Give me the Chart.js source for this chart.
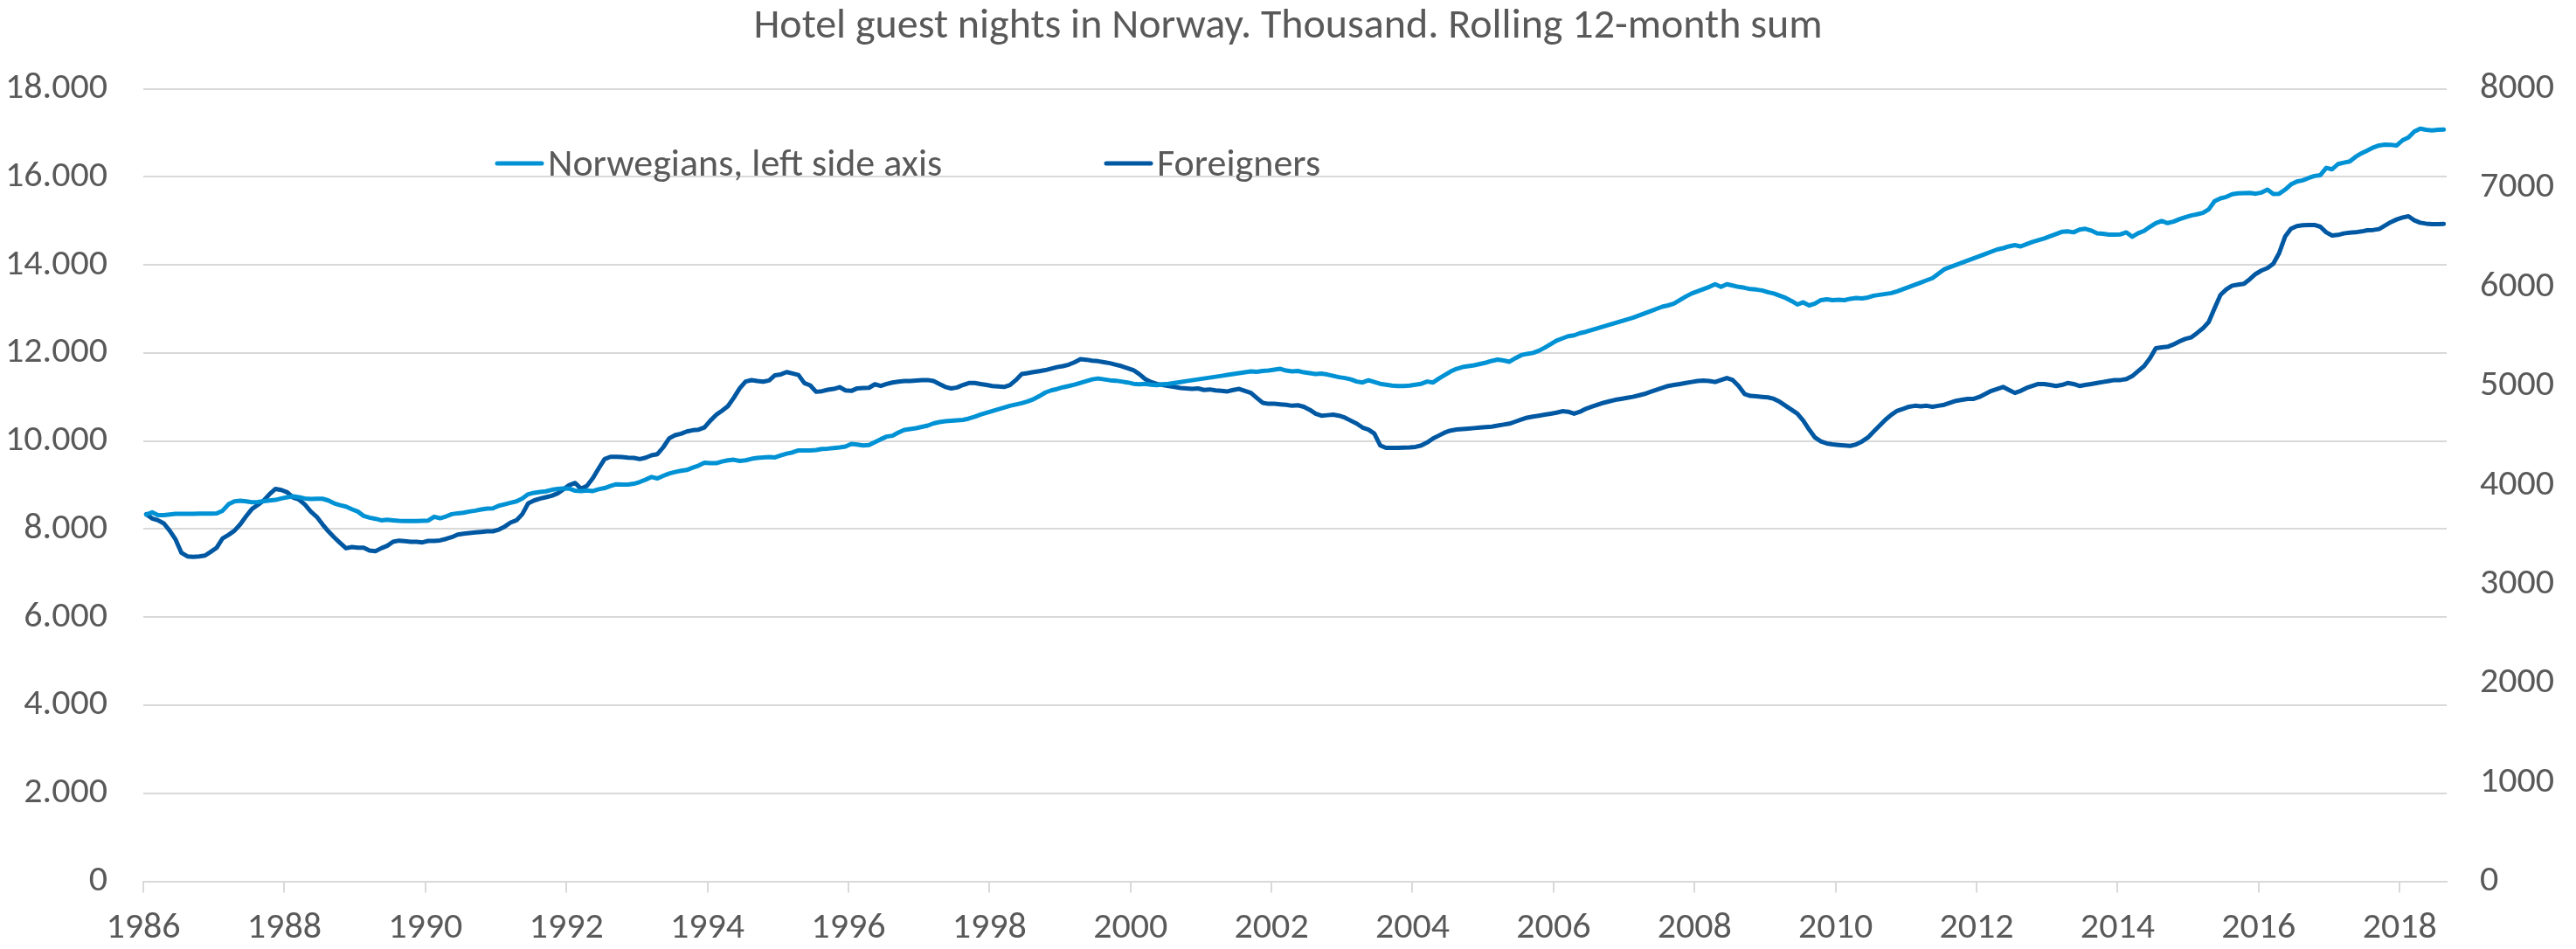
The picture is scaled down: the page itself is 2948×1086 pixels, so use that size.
<!DOCTYPE html>
<html>
<head>
<meta charset="utf-8">
<title>Hotel guest nights in Norway</title>
<script src="https://cdn.jsdelivr.net/npm/chart.js@4.4.1/dist/chart.umd.min.js"></script>
<style>
  html, body { margin: 0; padding: 0; background: #fff; }
  #wrap { width: 2948px; height: 1086px; position: relative; }
</style>
</head>
<body>
<div id="wrap"><canvas id="chart"></canvas></div>
<script>
// Monthly rolling 12-month sums, thousand guest nights, Jan 1986 - Aug 2018
const startYear = 1986;

const norwegians = [
  8330, 8380, 8315, 8315, 8330, 8345, 8345, 8345, 8345, 8350, 8350, 8350,
  8357, 8417, 8563, 8629, 8642, 8629, 8609, 8615, 8635, 8649, 8662, 8695,
  8722, 8741, 8722, 8695, 8682, 8688, 8688, 8649, 8583, 8543, 8510, 8451,
  8398, 8299, 8259, 8233, 8199, 8213, 8199, 8186, 8180, 8180, 8180, 8186,
  8193, 8279, 8246, 8286, 8339, 8358, 8372, 8398, 8418, 8444, 8464, 8471,
  8530, 8563, 8596, 8629, 8695, 8791, 8824, 8844, 8857, 8890, 8910, 8924,
  8917, 8870, 8864, 8877, 8864, 8904, 8930, 8977, 9017, 9010, 9010, 9030,
  9070, 9123, 9183, 9149, 9209, 9262, 9296, 9322, 9342, 9395, 9442, 9508,
  9495, 9495, 9535, 9561, 9575, 9548, 9561, 9595, 9615, 9628, 9635, 9628,
  9674, 9714, 9741, 9787, 9787, 9787, 9794, 9821, 9827, 9841, 9854, 9874,
  9934, 9920, 9900, 9907, 9973, 10040, 10100, 10120, 10193, 10253, 10272, 10290,
  10320, 10350, 10400, 10430, 10450, 10460, 10470, 10480, 10510, 10550, 10600, 10640,
  10680, 10720, 10760, 10800, 10830, 10860, 10900, 10950, 11020, 11100, 11150, 11180,
  11220, 11250, 11280, 11320, 11360, 11400, 11420, 11400, 11380, 11370, 11350, 11330,
  11300, 11290, 11300, 11280, 11270, 11290, 11300, 11320, 11340, 11360, 11380, 11400,
  11420, 11440, 11460, 11480, 11500, 11520, 11540, 11560, 11580, 11570, 11590, 11600,
  11620, 11640, 11600, 11580, 11590, 11560, 11540, 11520, 11530, 11510, 11480, 11450,
  11430, 11400, 11350, 11330, 11380, 11340, 11300, 11280, 11260, 11250, 11250, 11260,
  11280, 11300, 11350, 11330, 11420, 11500, 11580, 11640, 11680, 11700, 11720, 11750,
  11780, 11820, 11850, 11830, 11800, 11880, 11950, 11980, 12000, 12050, 12120, 12200,
  12280, 12330, 12380, 12400, 12450, 12480, 12520, 12560, 12600, 12640, 12680, 12720,
  12760, 12800, 12850, 12900, 12950, 13000, 13050, 13080, 13120, 13200, 13280, 13350,
  13400, 13450, 13500, 13560, 13500, 13560, 13530, 13500, 13480, 13450, 13440, 13420,
  13380, 13350, 13300, 13250, 13180, 13100, 13150, 13080, 13120, 13200, 13220, 13200,
  13210, 13200, 13230, 13250, 13240, 13260, 13300, 13320, 13340, 13360, 13400, 13450,
  13500, 13550, 13600, 13650, 13700, 13800, 13900, 13950, 14000, 14050, 14100, 14150,
  14200, 14250, 14300, 14350, 14380, 14420, 14450, 14420, 14470, 14520, 14560, 14600,
  14650, 14700, 14750, 14760, 14740, 14800, 14820, 14780, 14719, 14706, 14686, 14686,
  14693, 14739, 14640, 14719, 14772, 14865, 14950, 14997, 14950, 14983, 15036, 15082,
  15122, 15148, 15181, 15261, 15445, 15511, 15544, 15604, 15624, 15630, 15637, 15617,
  15643, 15709, 15610, 15617, 15709, 15828, 15894, 15921, 15973, 16020, 16039, 16204,
  16171, 16290, 16323, 16350, 16455, 16534, 16600, 16666, 16713, 16732, 16726, 16713,
  16831, 16897, 17029, 17095, 17069, 17056, 17069, 17076
];

const foreigners = [
  3706, 3662, 3644, 3612, 3538, 3450, 3315, 3280, 3274, 3280, 3288, 3327,
  3368, 3462, 3497, 3538, 3603, 3685, 3759, 3800, 3844, 3909, 3961, 3950,
  3926, 3873, 3853, 3803, 3732, 3680, 3603, 3532, 3471, 3415, 3362, 3374,
  3368, 3368, 3339, 3333, 3362, 3386, 3427, 3439, 3433, 3427, 3427, 3421,
  3436, 3436, 3441, 3456, 3474, 3500, 3509, 3515, 3521, 3527, 3533, 3533,
  3550, 3580, 3621, 3644, 3706, 3815, 3844, 3862, 3877, 3891, 3915, 3956,
  4000, 4021, 3962, 3991, 4068, 4168, 4262, 4285, 4285, 4282, 4276, 4274,
  4262, 4276, 4300, 4312, 4382, 4471, 4503, 4518, 4541, 4553, 4559, 4582,
  4650, 4709, 4750, 4797, 4882, 4976, 5044, 5059, 5050, 5044, 5056, 5108,
  5117, 5141, 5126, 5111, 5029, 5006, 4941, 4947, 4962, 4970, 4988, 4956,
  4950, 4976, 4979, 4982, 5017, 5000, 5020, 5035, 5044, 5050, 5050, 5055,
  5060, 5060, 5050, 5020, 4990, 4975, 4985, 5010, 5030, 5030, 5020, 5010,
  5000, 4995, 4990, 5010, 5060, 5120, 5130, 5140, 5150, 5160, 5175, 5190,
  5200, 5215, 5240, 5270, 5265, 5255, 5250, 5240, 5230, 5215, 5200, 5180,
  5160, 5120, 5070, 5040, 5020, 5010, 5000, 4990, 4980, 4975, 4970, 4975,
  4960, 4965, 4955, 4950, 4945, 4960, 4970, 4950, 4930, 4880, 4830, 4820,
  4820, 4815, 4810, 4800, 4805, 4790, 4760, 4720, 4700, 4705, 4710, 4700,
  4680, 4650, 4620, 4580, 4560, 4520, 4400, 4375, 4375, 4375, 4378, 4380,
  4385, 4400, 4430, 4470, 4500, 4530, 4550, 4560, 4565, 4570, 4575, 4580,
  4585, 4590, 4600, 4610, 4620, 4640, 4660, 4680, 4690, 4700, 4710, 4720,
  4730, 4745, 4740, 4720, 4740, 4770, 4790, 4810, 4830, 4845, 4860, 4870,
  4880, 4890, 4905, 4920, 4940, 4960, 4980, 5000, 5010, 5020, 5030, 5040,
  5050, 5055, 5050, 5040, 5060, 5080, 5060, 5000, 4920, 4900, 4895, 4890,
  4885, 4870, 4840, 4800, 4760, 4720, 4650, 4560, 4480, 4440, 4420, 4410,
  4405, 4400, 4395, 4410, 4440, 4480, 4540, 4600, 4660, 4710, 4750, 4770,
  4790, 4800, 4795, 4800, 4790, 4800, 4810, 4830, 4850, 4860, 4870, 4870,
  4890, 4920, 4950, 4970, 4990, 4960, 4930, 4950, 4980, 5000, 5020, 5020,
  5010, 5000, 5010, 5030, 5020, 5000, 5010, 5020, 5030, 5040, 5050, 5060,
  5060, 5070, 5100, 5150, 5200, 5280, 5381, 5390, 5396, 5419, 5449, 5475,
  5490, 5534, 5581, 5646, 5784, 5919, 5975, 6013, 6022, 6031, 6078, 6131,
  6166, 6190, 6234, 6343, 6507, 6587, 6613, 6622, 6625, 6625, 6607, 6551,
  6519, 6525, 6540, 6548, 6551, 6560, 6572, 6575, 6584, 6619, 6654, 6681,
  6701, 6713, 6672, 6648, 6639, 6634, 6634, 6636
];

const seriesNames = ['Norwegians, left side axis', 'Foreigners'];
const seriesColors = ['#0092D4', '#0058A2'];
const leftTicks = [0, 2000, 4000, 6000, 8000, 10000, 12000, 14000, 16000, 18000];
const rightTicks = [0, 1000, 2000, 3000, 4000, 5000, 6000, 7000, 8000];

const FONT = 'Carlito, Calibri, Lato, sans-serif';
const TEXT = '#595959';
const GRID = '#D9D9D9';

// month i sits in the middle of its slot on the x axis
const toPoints = arr => arr.map((v, i) => ({ x: i + 0.5, y: v }));

const fmtDots = v => String(v).replace(/\B(?=(\d{3})+(?!\d))/g, '.');

// legend drawn inside the plot, under the title
const legendInside = {
  id: 'legendInside',
  afterDraw(chart) {
    const ctx = chart.ctx;
    const items = [{ x: 566 }, { x: 1263 }];
    ctx.save();
    ctx.font = '44px ' + FONT;
    ctx.fillStyle = TEXT;
    ctx.textBaseline = 'alphabetic';
    ctx.textAlign = 'left';
    chart.data.datasets.forEach((ds, i) => {
      const x = items[i].x;
      ctx.strokeStyle = ds.borderColor;
      ctx.lineWidth = 5;
      ctx.lineCap = 'round';
      ctx.beginPath();
      ctx.moveTo(x + 3, 187);
      ctx.lineTo(x + 54, 187);
      ctx.stroke();
      ctx.fillText(ds.label, x + 61, 201);
    });
    ctx.restore();
  }
};

new Chart(document.getElementById('chart').getContext('2d'), {
  type: 'line',
  data: {
    datasets: [
      {
        label: seriesNames[0],
        data: toPoints(norwegians),
        yAxisID: 'y',
        borderColor: seriesColors[0],
        backgroundColor: seriesColors[0],
        borderWidth: 5,
        pointRadius: 0,
        tension: 0,
        borderJoinStyle: 'round',
        borderCapStyle: 'round'
      },
      {
        label: seriesNames[1],
        data: toPoints(foreigners),
        yAxisID: 'y1',
        borderColor: seriesColors[1],
        backgroundColor: seriesColors[1],
        borderWidth: 5,
        pointRadius: 0,
        tension: 0,
        borderJoinStyle: 'round',
        borderCapStyle: 'round'
      }
    ]
  },
  options: {
    responsive: true,
    maintainAspectRatio: false,
    animation: false,
    layout: { padding: 0 },
    plugins: {
      legend: { display: false },
      tooltip: { enabled: false },
      title: {
        display: true,
        text: 'Hotel guest nights in Norway. Thousand. Rolling 12-month sum',
        color: TEXT,
        font: { family: FONT, size: 48, weight: 'normal', lineHeight: 1.2 },
        padding: { top: 2, bottom: 42 }
      }
    },
    scales: {
      x: {
        type: 'linear',
        min: 0,
        max: norwegians.length,
        afterFit: s => { s.height = 77.5; },
        border: { display: true, color: GRID, width: 2 },
        grid: {
          drawOnChartArea: false,
          drawTicks: true,
          tickLength: 13,
          color: GRID,
          lineWidth: 2
        },
        ticks: {
          stepSize: 24,
          includeBounds: false,
          autoSkip: false,
          maxRotation: 0,
          padding: 16,
          color: TEXT,
          font: { family: FONT, size: 42 },
          callback: v => (v % 24 === 0 ? String(startYear + v / 12) : '')
        }
      },
      y: {
        position: 'left',
        min: leftTicks[0],
        max: leftTicks[leftTicks.length - 1],
        afterFit: s => { s.width = 164; },
        afterBuildTicks: s => { s.ticks = leftTicks.map(v => ({ value: v })); },
        border: { display: false },
        grid: { color: GRID, lineWidth: 2, drawTicks: false },
        ticks: {
          padding: 41,
          color: TEXT,
          font: { family: FONT, size: 42 },
          callback: v => fmtDots(v)
        }
      },
      y1: {
        position: 'right',
        min: rightTicks[0],
        max: rightTicks[rightTicks.length - 1],
        afterFit: s => { s.width = 148; },
        afterBuildTicks: s => { s.ticks = rightTicks.map(v => ({ value: v })); },
        border: { display: false },
        grid: { display: false, drawTicks: false },
        ticks: {
          padding: 38,
          color: TEXT,
          font: { family: FONT, size: 42 },
          callback: v => String(v)
        }
      }
    }
  },
  plugins: [legendInside]
});
</script>
</body>
</html>
